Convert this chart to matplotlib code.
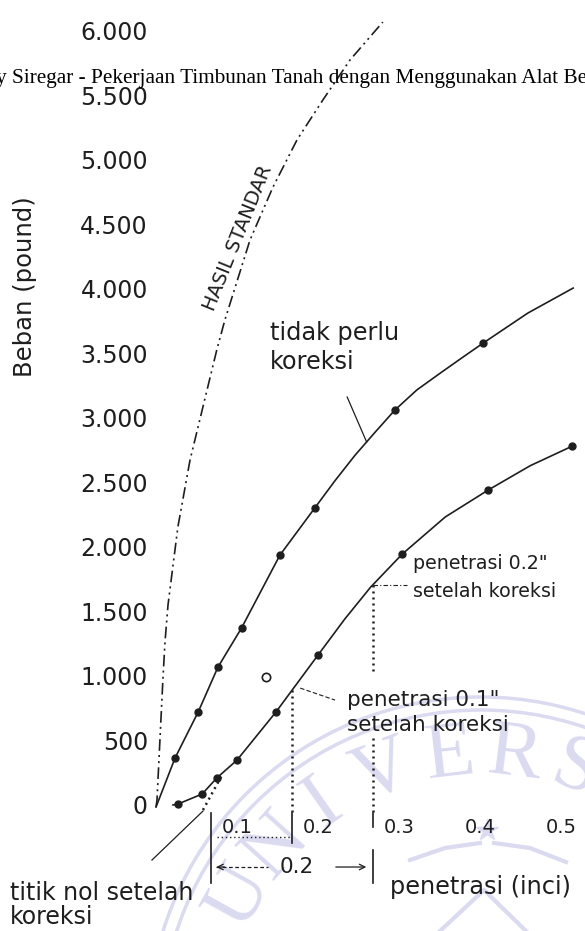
import numpy as np
import matplotlib
matplotlib.use("Agg")
import matplotlib.pyplot as plt
from matplotlib.patches import Circle

# --- data (penetration in inch, load in pound) ---
std_x = [0, 0.0012, 0.0086, 0.011, 0.0148, 0.027, 0.042, 0.075, 0.085, 0.116, 0.1444, 0.174, 0.206, 0.2395, 0.280]
std_y = [0, 54, 1000, 1271, 1566, 2171, 2690, 3543, 3775, 4395, 4806, 5171, 5481, 5791, 6085]

raw_line_x = [0, 0.0235, 0.052, 0.0765, 0.1056, 0.153, 0.196, 0.221, 0.2457, 0.2704, 0.295,
              0.322, 0.351, 0.379, 0.404, 0.459, 0.515]
raw_line_y = [0, 380, 736, 1085, 1388, 1953, 2318, 2530, 2727, 2905, 3078,
              3233, 3364, 3488, 3597, 3829, 4023]
raw_dot_x = [0.0235, 0.052, 0.0765, 0.1056, 0.153, 0.196, 0.295, 0.404]
raw_dot_y = [380, 736, 1085, 1388, 1953, 2318, 3078, 3597]

cor_line_x = [0.021, 0.027, 0.057, 0.075, 0.100, 0.148, 0.200, 0.233, 0.265, 0.304, 0.357, 0.410, 0.462, 0.514]
cor_line_y = [16, 23, 101, 225, 364, 736, 1178, 1457, 1705, 1961, 2248, 2457, 2646, 2798]
cor_dot_x = [0.027, 0.057, 0.075, 0.100, 0.148, 0.200, 0.304, 0.410, 0.514]
cor_dot_y = [23, 101, 225, 364, 736, 1178, 1961, 2457, 2798]

stray_x = [0.136]
stray_y = [1008]

zero_shift = 0.068          # titik nol setelah koreksi
y_ticks = [0, 500, 1000, 1500, 2000, 2500, 3000, 3500, 4000, 4500, 5000, 5500, 6000]
y_labels = ["0", "500", "1.000", "1.500", "2.000", "2.500", "3.000", "3.500",
            "4.000", "4.500", "5.000", "5.500", "6.000"]
x_ticks = [0.1, 0.2, 0.3, 0.4, 0.5]
x_labels = ["0.1", "0.2", "0.3", "0.4", "0.5"]

INK = "#1e1e1e"
WM = "#dadaf0"

fig = plt.figure(figsize=(5.85, 9.31), dpi=100)
fig.patch.set_facecolor("white")

# faint university seal in the lower right, drawn in pixel space
seal = fig.add_axes([0, 0, 1, 1], zorder=0)
seal.set_xlim(0, 585)
seal.set_ylim(931, 0)
seal.axis("off")
cx, cy = 481, 1030
for r in (320, 333):
    seal.add_patch(Circle((cx, cy), r, fill=False, color=WM, lw=2.5))
for ch, ang in zip("UNIVERS", [151, 138, 125, 111, 96.5, 83, 70]):
    t = np.deg2rad(ang)
    seal.text(cx + 275 * np.cos(t), cy - 275 * np.sin(t), ch, rotation=ang - 90,
              ha="center", va="center", fontsize=58, family="Liberation Serif", color=WM)
seal.plot([487], [830], marker="*", ms=16, color=WM, mec=WM)
seal.plot([410, 445, 480], [860, 848, 843], color=WM, lw=3)
seal.plot([494, 530, 566], [843, 848, 862], color=WM, lw=3)
seal.plot([440, 484, 526], [931, 890, 931], color=WM, lw=3)

ax = fig.add_axes([0, 0, 1, 1], zorder=1)
ax.set_xlim(-0.1926, 0.5296)
ax.set_ylim(-961, 6256)
ax.axis("off")

# curves
ax.plot(std_x, std_y, color=INK, lw=1.2, dashes=(7, 2.5, 1.2, 2.5, 1.2, 2.5))
ax.plot(raw_line_x, raw_line_y, color=INK, lw=1.2)
ax.plot(raw_dot_x, raw_dot_y, "o", color=INK, ms=5)
ax.plot(cor_line_x, cor_line_y, color=INK, lw=1.2)
ax.plot(cor_dot_x, cor_dot_y, "o", color=INK, ms=5)
ax.plot(stray_x, stray_y, "o", mfc="white", mec=INK, ms=6, mew=1.2)

# corrected penetration guides
dot = dict(color=INK, lw=1.8, ls=(0, (0.8, 1.6)))
p1 = zero_shift + 0.1
p2 = zero_shift + 0.2
ax.plot([p1, p1], [np.interp(p1, cor_line_x, cor_line_y), -47], **dot)
y2 = np.interp(p2, cor_line_x, cor_line_y)
ax.plot([p2, p2], [y2, 1047], **dot)
ax.plot([p2, p2], [535, -47], **dot)

# tangent extension and zero marker
ax.plot([0.058, 0.0815], [-23, 248], **dot)
ax.plot([-0.005, 0.058], [-411, -31], color=INK, lw=0.9)
ax.plot([zero_shift, zero_shift], [-47, -589], color=INK, lw=1.2)
ax.plot([p1, p1], [-47, -279], color=INK, lw=1.2)
ax.plot([p2, p2], [-47, -155], color=INK, lw=1.2)
ax.plot([p2, p2], [-333, -589], color=INK, lw=1.2)
ax.plot([zero_shift + 0.007, p1 - 0.003], [-233, -233], color=INK, lw=1.0, ls=(0, (1, 2)))

# 0.2 span arrows
ax.plot([zero_shift + 0.006, 0.138], [-465, -465], color=INK, lw=0.9, ls=(0, (3, 2)))
ax.annotate("", xy=(zero_shift + 0.003, -465), xytext=(zero_shift + 0.02, -465),
            arrowprops=dict(arrowstyle="->", color=INK, lw=0.9))
ax.annotate("", xy=(p2 - 0.005, -465), xytext=(0.2185, -465),
            arrowprops=dict(arrowstyle="->", color=INK, lw=0.9))
ax.text(0.174, -465, "0.2", ha="center", va="center", fontsize=15.5, color=INK)

# leaders
lead_x = 0.260
ax.plot([0.236, lead_x], [3178, np.interp(lead_x, raw_line_x, raw_line_y)], color=INK, lw=0.9)
ax.plot([0.178, 0.221], [922, 829], color=INK, lw=0.8, ls=(0, (4, 2)))
ax.plot([p2, 0.310], [y2, y2], color=INK, lw=0.8, ls=(0, (4, 2, 1, 2)))

# tick labels
for v, s in zip(y_ticks, y_labels):
    ax.text(-0.0099, v, s, ha="right", va="center", fontsize=17, color=INK)
for v, s in zip(x_ticks, x_labels):
    ax.text(v, -155, s, ha="center", va="center", fontsize=14, color=INK)

# annotations
ax.text(-0.162, 4031, "Beban (pound)", rotation=90, ha="center", va="center", fontsize=17.5, color=INK)
ax.text(0.101, 4411, "HASIL STANDAR", rotation=68, ha="center", va="center", fontsize=14, color=INK)
ax.text(0.141, 3674, "tidak perlu", ha="left", va="center", fontsize=17.3, color=INK)
ax.text(0.141, 3450, "koreksi", ha="left", va="center", fontsize=17.3, color=INK)
ax.text(0.317, 1891, "penetrasi 0.2\"", ha="left", va="center", fontsize=13.7, color=INK)
ax.text(0.317, 1667, "setelah koreksi", ha="left", va="center", fontsize=13.7, color=INK)
ax.text(0.236, 829, "penetrasi 0.1\"", ha="left", va="center", fontsize=15.5, color=INK)
ax.text(0.236, 636, "setelah koreksi", ha="left", va="center", fontsize=15.5, color=INK)
ax.text(0.289, -620, "penetrasi (inci)", ha="left", va="center", fontsize=17.3, color=INK)
ax.text(-0.180, -667, "titik nol setelah", ha="left", va="center", fontsize=17, color=INK)
ax.text(-0.180, -853, "koreksi", ha="left", va="center", fontsize=17, color=INK)

# running header of the source document
fig.text(-4 / 585, 1 - 78 / 931, "y Siregar - Pekerjaan Timbunan Tanah dengan Menggunakan Alat Berat",
         ha="left", va="center", fontsize=15.3, family="Liberation Serif", color="black", zorder=5)

fig.savefig("out.png", dpi=100)
